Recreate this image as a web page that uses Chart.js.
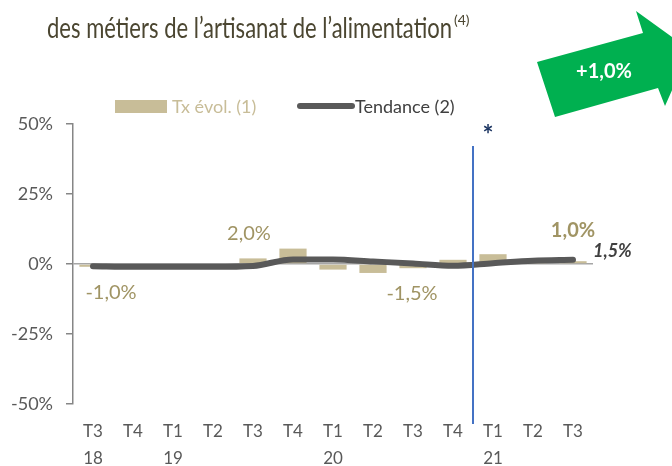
<!DOCTYPE html>
<html lang="fr">
  <head>
    <meta charset="UTF-8" />
    <script src="https://cdn.jsdelivr.net/npm/chart.js@4/dist/chart.umd.min.js"></script>
    <title>Artisanat de l'alimentation</title>
    <style>
      html, body { margin: 0; padding: 0; background: #fff; }
      #wrap { width: 672px; height: 466px; }
    </style>
  </head>
  <body>
    <div id="wrap"><canvas id="myChart" width="672" height="466"></canvas></div>
    <script>
      const quarters = ["T3", "T4", "T1", "T2", "T3", "T4", "T1", "T2", "T3", "T4", "T1", "T2", "T3"];
      const years = ["18", "", "19", "", "", "", "20", "", "", "", "21", "", ""];
      const txEvol = [-1.0, -0.5, -0.5, -0.5, 2.0, 5.5, -2.0, -3.2, -1.5, 1.5, 3.5, 1.0, 1.0];
      const tendance = [-0.8, -1.0, -1.0, -1.0, -0.7, 1.6, 1.6, 0.9, 0.2, -0.6, 0.3, 1.2, 1.5];
      const labelledBars = [0, 4, 8, 12];
      const yTicks = [-50, -25, 0, 25, 50];

      const FONT = "Lato, 'Open Sans', sans-serif";
      const fmt = (v) => v.toFixed(1).replace(".", ",") + "%";

      // title, legend, arrow, labels, separator line
      const decor = {
        id: "decor",
        afterDatasetsDraw(chart) {
          const c = chart.ctx;
          const x = chart.scales.x;
          c.save();

          // title (squeezed to the width of the original narrow face)
          c.fillStyle = "#4b4631";
          c.font = "28px " + FONT;
          c.textBaseline = "alphabetic";
          c.textAlign = "left";
          const t = "des métiers de l’artisanat de l’alimentation";
          const tw = c.measureText(t).width;
          c.save();
          c.translate(47, 38);
          c.scale(405 / tw, 1);
          c.fillText(t, 0, 0);
          c.restore();
          c.font = "14px " + FONT;
          c.fillText("(4)", 47 + 405 + 2, 25);

          // green arrow
          c.fillStyle = "#00b050";
          c.beginPath();
          c.moveTo(537, 62);
          c.lineTo(643, 33);
          c.lineTo(636, 11);
          c.lineTo(690, 50);
          c.lineTo(665, 106);
          c.lineTo(658, 88);
          c.lineTo(555, 117);
          c.closePath();
          c.fill();
          c.fillStyle = "#fff";
          c.font = "bold 20px " + FONT;
          c.textAlign = "center";
          c.textBaseline = "middle";
          c.fillText("+1,0%", 604, 72);

          // legend
          c.fillStyle = "#c8bd98";
          c.fillRect(115, 100, 52, 13);
          c.font = "18px " + FONT;
          c.textAlign = "left";
          c.fillText("Tx évol. (1)", 172, 107);
          c.strokeStyle = "#595959";
          c.lineWidth = 6;
          c.lineCap = "round";
          c.beginPath();
          c.moveTo(300, 106);
          c.lineTo(352, 106);
          c.stroke();
          c.fillStyle = "#404040";
          c.fillText("Tendance (2)", 355, 107);

          // separator between T4 20 and T1 21
          const sx = (x.getPixelForValue(9) + x.getPixelForValue(10)) / 2;
          c.strokeStyle = "#4472c4";
          c.lineWidth = 2;
          c.lineCap = "butt";
          c.beginPath();
          c.moveTo(sx, 146);
          c.lineTo(sx, 424);
          c.stroke();
          c.fillStyle = "#1f3864";
          c.font = "bold 26px " + FONT;
          c.textAlign = "center";
          c.fillText("*", sx + 15, 136);

          // bar labels
          const bars = chart.getDatasetMeta(0).data;
          const offs = { 0: [18, 26], 4: [-4, -25], 8: [-1, 25], 12: [0, -31] };
          labelledBars.forEach((i) => {
            const b = bars[i];
            c.fillStyle = "#a09464";
            c.font = (i === 12 ? "bold " : "") + "20px " + FONT;
            c.textAlign = "center";
            c.fillText(fmt(txEvol[i]), b.x + offs[i][0], b.y + offs[i][1]);
          });

          // trend end label
          const pts = chart.getDatasetMeta(1).data;
          const last = pts[pts.length - 1];
          c.fillStyle = "#404040";
          c.font = "italic bold 18px " + FONT;
          c.textAlign = "left";
          c.fillText(fmt(tendance[tendance.length - 1]), last.x + 20, last.y - 9);

          c.restore();
        },
      };

      const labels = quarters.map((q, i) => [q, years[i]]);

      new Chart(document.getElementById("myChart"), {
        data: {
          labels: labels,
          datasets: [
            {
              type: "bar",
              label: "Tx évol. (1)",
              data: txEvol,
              backgroundColor: "#c8bd98",
              categoryPercentage: 1,
              barPercentage: 0.68,
              order: 2,
            },
            {
              type: "line",
              label: "Tendance (2)",
              data: tendance,
              borderColor: "#595959",
              borderWidth: 6,
              borderCapStyle: "round",
              borderJoinStyle: "round",
              pointRadius: 0,
              cubicInterpolationMode: "monotone",
              order: 1,
            },
          ],
        },
        plugins: [decor],
        options: {
          responsive: false,
          animation: false,
          layout: { padding: { top: 124, right: 79, bottom: 0, left: 0 } },
          plugins: {
            legend: { display: false },
            tooltip: { enabled: false },
          },
          scales: {
            x: {
              afterFit: (s) => { s.height = 62; },
              grid: { display: false },
              border: { display: false },
              ticks: {
                color: "#595959",
                font: { family: FONT, size: 17, lineHeight: 1.6 },
                padding: 6,
                maxRotation: 0,
                autoSkip: false,
              },
            },
            y: {
              min: -50,
              max: 50,
              afterFit: (s) => { s.width = 73; },
              afterBuildTicks: (s) => { s.ticks = yTicks.map((v) => ({ value: v })); },
              border: { color: "#868686", width: 1.5 },
              grid: {
                color: (ctx) => (ctx.tick && ctx.tick.value === 0 ? "#a6a6a6" : "rgba(0,0,0,0)"),
                lineWidth: 1.5,
                tickColor: "#868686",
                tickLength: 7,
              },
              ticks: {
                color: "#595959",
                font: { family: FONT, size: 18 },
                padding: 13,
                callback: (v) => v + "%",
              },
            },
          },
        },
      });
    </script>
  </body>
</html>
